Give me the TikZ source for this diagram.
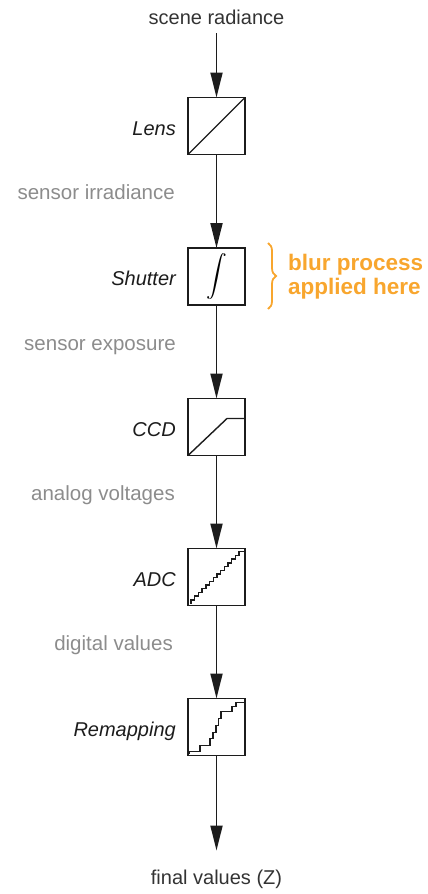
\documentclass[tikz,border=0pt]{standalone}
\usepackage{exscale}
\usepackage{fontspec}
\setmainfont{Liberation Sans}
\usetikzlibrary{calc, arrows.meta, decorations.pathreplacing}
\definecolor{flowInk}{HTML}{1C1C1C}
\definecolor{endInk}{HTML}{333333}
\definecolor{signalGray}{HTML}{8C8C8C}
\definecolor{blurOrange}{HTML}{F8A62E}

\begin{document}
\begin{tikzpicture}[x=1pt, y=1pt,
    stage/.style={draw=flowInk, line width=1.8pt, minimum size=57pt, inner sep=0pt, outer sep=0pt},
    stageName/.style={font=\fontsize{20}{24}\selectfont\itshape, text=flowInk, anchor=base east, inner sep=0pt},
    signal/.style={font=\fontsize{20.5}{24}\selectfont, text=signalGray, anchor=base east, inner sep=0pt},
    endText/.style={font=\fontsize{20}{24}\selectfont, text=endInk, anchor=base, inner sep=0pt},
    flow/.style={line width=1.8pt, draw=flowInk, -{Triangle[length=25pt, width=12pt]}},
    transfer/.style={line width=1.4pt, draw=flowInk}]
    \useasboundingbox (0,0) rectangle (428,-894);

    % input / output texts
    \node[endText, outer sep=9pt] (radiance) at (216.5,-24) {scene radiance};
    \node[endText, outer sep=19pt] (final) at (216.5,-884) {final values (Z)};

    % pipeline stages
    \node[stage] (lens) at (216.5,-126) {};
    \node[stage] (shutter) at (216.5,-276.5) {\fontsize{20}{24}\selectfont$\displaystyle\int$};
    \node[stage] (ccd) at (216.5,-427) {};
    \node[stage] (adc) at (216.5,-577) {};
    \node[stage] (remap) at (216.5,-727) {};

    \foreach \stg/\txt in {lens/Lens, shutter/Shutter, ccd/CCD, adc/ADC, remap/Remapping}
        \node[stageName] (\stg-name) at ($(\stg.west)+(-12,-9)$) {\txt};

    % signals between the stages
    \node[signal] (irradiance) at (175,-199) {sensor irradiance};
    \node[signal] (exposure) at (176,-350) {sensor exposure};
    \node[signal] (voltages) at (175,-500) {analog voltages};
    \node[signal] (digital) at (173,-650) {digital values};

    \draw[flow] (radiance) -- (lens);
    \draw[flow] (lens) -- (shutter);
    \draw[flow] (shutter) -- (ccd);
    \draw[flow] (ccd) -- (adc);
    \draw[flow] (adc) -- (remap);
    \draw[flow] (remap) -- (final);

    % response curves inside the boxes
    \draw[transfer] (lens.south west) -- (lens.north east);
    \draw[transfer, shift={(ccd.south west)}] (0,0) -- (39,37) -- (57,37);
    \draw[transfer, shift={(adc.south west)}] (3,2)
        \foreach \k in {1,...,14} { -- ++(0,3.7) -- ++(3.7,0) } -- ++(2.2,0);
    \draw[transfer, shift={(remap.south west)}] (1,1.5) -- (1,4) -- (12,4) -- (12,10)
        -- (22,10) -- (22,17) -- (25,17) -- (25,23) -- (28,23) -- (28,30)
        -- (30.5,30) -- (30.5,37) -- (33,37) -- (33,44) -- (44,44) -- (44,49)
        -- (48,49) -- (48,53) -- (57,53);

    % where the blur is applied
    \draw[blurOrange, line width=1.8pt, decorate, decoration={brace, amplitude=8pt}]
        ([shift={(23,5)}]shutter.north east) -- ([shift={(23,-4)}]shutter.south east);
    \node[font=\fontsize{22.5}{24.5}\selectfont\bfseries, text=blurOrange, align=left,
        anchor=west, inner sep=0pt] (blurNote) at ([xshift=43pt]shutter.east)
        {blur process\\applied here};
\end{tikzpicture}
\end{document}
